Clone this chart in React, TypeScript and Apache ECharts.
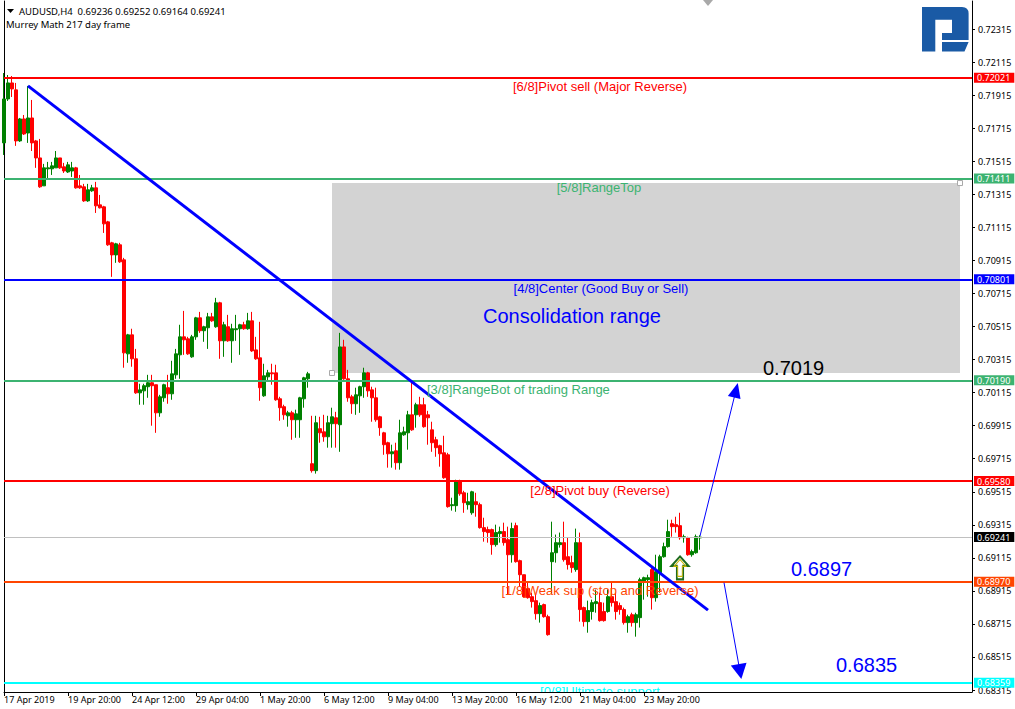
import React, { useEffect, useRef } from 'react';
import * as echarts from 'echarts';

// ---------- DATA ----------
const opens = [
  0.71627, 0.71893, 0.71990, 0.71948, 0.71639, 0.71772, 0.71687, 0.71778, 0.71639, 0.71536,
  0.71367, 0.71470, 0.71470, 0.71476, 0.71536, 0.71482, 0.71451, 0.71457, 0.71476, 0.71367,
  0.71361, 0.71276, 0.71337, 0.71355, 0.71252, 0.71240, 0.71149, 0.71022, 0.70949, 0.71010,
  0.70919, 0.70350, 0.70465, 0.70320, 0.70114, 0.70126, 0.70151, 0.70175, 0.70163, 0.69993,
  0.70084, 0.70145, 0.70108, 0.70223, 0.70344, 0.70453, 0.70441, 0.70332, 0.70453, 0.70568,
  0.70490, 0.70508, 0.70574, 0.70514, 0.70659, 0.70429, 0.70514, 0.70429, 0.70496, 0.70502,
  0.70526, 0.70502, 0.70550, 0.70374, 0.70326, 0.70096, 0.70211, 0.70235, 0.70235, 0.70078,
  0.70030, 0.69975, 0.69993, 0.69951, 0.69951, 0.70078, 0.70199, 0.69685, 0.69643, 0.69897,
  0.69878, 0.69848, 0.69927, 0.69963, 0.69921, 0.70392, 0.70199, 0.70090, 0.70048, 0.70096,
  0.70151, 0.70235, 0.70132, 0.70084, 0.69969, 0.69872, 0.69812, 0.69745, 0.69763, 0.69691,
  0.69860, 0.69872, 0.69981, 0.69981, 0.70042, 0.70042, 0.69981, 0.69890, 0.69830, 0.69794,
  0.69751, 0.69739, 0.69431, 0.69431, 0.69582, 0.69509, 0.69437, 0.69388, 0.69455, 0.69437,
  0.69298, 0.69286, 0.69286, 0.69195, 0.69262, 0.69274, 0.69225, 0.69134, 0.69310, 0.69098,
  0.69013, 0.68929, 0.68880, 0.68856, 0.68777, 0.68832, 0.68759, 0.69092, 0.69146, 0.69195,
  0.69207, 0.69122, 0.69086, 0.69044, 0.69207, 0.68814, 0.68729, 0.68790, 0.68838, 0.68844,
  0.68790, 0.68790, 0.68880, 0.68850, 0.68826, 0.68802, 0.68723, 0.68771, 0.68723, 0.68753,
  0.68971, 0.68983, 0.69044, 0.68874, 0.69025, 0.69122, 0.69183, 0.69322, 0.69316, 0.69310,
  0.69237, 0.69237, 0.69134, 0.69146, 0.69236,
];
const closes = [
  0.71893, 0.71990, 0.71954, 0.71639, 0.71772, 0.71681, 0.71778, 0.71627, 0.71536, 0.71361,
  0.71476, 0.71476, 0.71488, 0.71536, 0.71476, 0.71457, 0.71494, 0.71476, 0.71355, 0.71355,
  0.71276, 0.71343, 0.71355, 0.71246, 0.71234, 0.71137, 0.71010, 0.70949, 0.71016, 0.70907,
  0.70356, 0.70465, 0.70320, 0.70114, 0.70132, 0.70157, 0.70175, 0.70157, 0.69993, 0.70090,
  0.70163, 0.70108, 0.70229, 0.70350, 0.70453, 0.70435, 0.70350, 0.70453, 0.70568, 0.70490,
  0.70514, 0.70574, 0.70550, 0.70659, 0.70429, 0.70526, 0.70429, 0.70502, 0.70502, 0.70526,
  0.70502, 0.70550, 0.70368, 0.70320, 0.70145, 0.70217, 0.70235, 0.70229, 0.70072, 0.70024,
  0.69981, 0.69993, 0.69951, 0.69987, 0.70084, 0.70205, 0.70229, 0.69643, 0.69933, 0.69872,
  0.69848, 0.69933, 0.69969, 0.69927, 0.70392, 0.70199, 0.70084, 0.70048, 0.70102, 0.70151,
  0.70235, 0.70126, 0.70084, 0.69951, 0.69903, 0.69800, 0.69745, 0.69757, 0.69691, 0.69872,
  0.69878, 0.69981, 0.69890, 0.70042, 0.69981, 0.69909, 0.69963, 0.69812, 0.69782, 0.69745,
  0.69600, 0.69425, 0.69437, 0.69582, 0.69503, 0.69449, 0.69455, 0.69515, 0.69437, 0.69298,
  0.69274, 0.69268, 0.69195, 0.69268, 0.69274, 0.69207, 0.69134, 0.69292, 0.69092, 0.69013,
  0.68880, 0.68874, 0.68850, 0.68777, 0.68826, 0.68759, 0.68650, 0.69146, 0.69207, 0.69207,
  0.69104, 0.69074, 0.69056, 0.69207, 0.68802, 0.68729, 0.68796, 0.68844, 0.68850, 0.68735,
  0.68735, 0.68880, 0.68844, 0.68790, 0.68802, 0.68723, 0.68759, 0.68723, 0.68771, 0.68983,
  0.68995, 0.68995, 0.68874, 0.69031, 0.69122, 0.69183, 0.69274, 0.69304, 0.69304, 0.69237,
  0.69243, 0.69134, 0.69153, 0.69243, 0.69241,
];
const lows = [
  0.71554, 0.71881, 0.71905, 0.71609, 0.71633, 0.71675, 0.71627, 0.71578, 0.71476, 0.71355,
  0.71367, 0.71409, 0.71433, 0.71476, 0.71470, 0.71445, 0.71445, 0.71421, 0.71350, 0.71349,
  0.71270, 0.71270, 0.71331, 0.71203, 0.71230, 0.71082, 0.71004, 0.70816, 0.70901, 0.70901,
  0.70266, 0.70296, 0.70272, 0.70108, 0.70042, 0.70042, 0.70084, 0.69915, 0.69872, 0.69969,
  0.70060, 0.70048, 0.70072, 0.70199, 0.70199, 0.70344, 0.70344, 0.70326, 0.70435, 0.70477,
  0.70423, 0.70380, 0.70544, 0.70508, 0.70320, 0.70332, 0.70423, 0.70296, 0.70429, 0.70344,
  0.70496, 0.70496, 0.70362, 0.70314, 0.70066, 0.70090, 0.70181, 0.70163, 0.70066, 0.69945,
  0.69951, 0.69909, 0.69830, 0.69842, 0.69842, 0.70024, 0.70145, 0.69631, 0.69625, 0.69812,
  0.69818, 0.69782, 0.69782, 0.69782, 0.69757, 0.70193, 0.70060, 0.69987, 0.69981, 0.69993,
  0.70084, 0.70090, 0.69939, 0.69939, 0.69854, 0.69739, 0.69661, 0.69661, 0.69649, 0.69649,
  0.69854, 0.69770, 0.69884, 0.69903, 0.69969, 0.69903, 0.69800, 0.69757, 0.69727, 0.69667,
  0.69594, 0.69419, 0.69401, 0.69394, 0.69491, 0.69388, 0.69407, 0.69376, 0.69364, 0.69292,
  0.69213, 0.69207, 0.69134, 0.69183, 0.69207, 0.69189, 0.68892, 0.69086, 0.69086, 0.68941,
  0.68874, 0.68868, 0.68814, 0.68741, 0.68723, 0.68753, 0.68644, 0.68898, 0.69086, 0.69177,
  0.69092, 0.69044, 0.69025, 0.69031, 0.68729, 0.68699, 0.68662, 0.68741, 0.68783, 0.68729,
  0.68729, 0.68783, 0.68820, 0.68741, 0.68771, 0.68711, 0.68662, 0.68699, 0.68638, 0.68693,
  0.68862, 0.68880, 0.68802, 0.68850, 0.68904, 0.69116, 0.69177, 0.69243, 0.69268, 0.69225,
  0.69207, 0.69128, 0.69122, 0.69140, 0.69164,
];
const highs = [
  0.72050, 0.72038, 0.72032, 0.71990, 0.71778, 0.71796, 0.71972, 0.71887, 0.71645, 0.71651,
  0.71500, 0.71512, 0.71512, 0.71578, 0.71536, 0.71506, 0.71512, 0.71512, 0.71482, 0.71433,
  0.71379, 0.71379, 0.71373, 0.71391, 0.71312, 0.71246, 0.71155, 0.71028, 0.71022, 0.71022,
  0.70931, 0.70471, 0.70502, 0.70380, 0.70169, 0.70169, 0.70223, 0.70223, 0.70163, 0.70102,
  0.70169, 0.70223, 0.70308, 0.70380, 0.70526, 0.70610, 0.70453, 0.70465, 0.70574, 0.70604,
  0.70520, 0.70598, 0.70598, 0.70689, 0.70665, 0.70544, 0.70586, 0.70532, 0.70586, 0.70532,
  0.70544, 0.70598, 0.70604, 0.70453, 0.70544, 0.70290, 0.70253, 0.70290, 0.70284, 0.70090,
  0.70042, 0.70005, 0.70005, 0.70012, 0.70090, 0.70211, 0.70241, 0.69975, 0.69975, 0.69969,
  0.69981, 0.69975, 0.70024, 0.69999, 0.70477, 0.70435, 0.70253, 0.70102, 0.70145, 0.70157,
  0.70266, 0.70241, 0.70151, 0.70145, 0.69975, 0.69878, 0.69818, 0.69800, 0.69812, 0.69951,
  0.69909, 0.70005, 0.70175, 0.70054, 0.70090, 0.70084, 0.70005, 0.69939, 0.69848, 0.69800,
  0.69854, 0.69751, 0.69479, 0.69588, 0.69588, 0.69521, 0.69509, 0.69521, 0.69509, 0.69449,
  0.69358, 0.69304, 0.69292, 0.69316, 0.69304, 0.69328, 0.69304, 0.69328, 0.69328, 0.69104,
  0.69013, 0.68971, 0.68904, 0.68892, 0.68844, 0.68838, 0.68771, 0.69334, 0.69256, 0.69268,
  0.69334, 0.69237, 0.69128, 0.69292, 0.69268, 0.68820, 0.68856, 0.68862, 0.68923, 0.68904,
  0.68844, 0.68923, 0.68965, 0.68904, 0.68844, 0.68814, 0.68771, 0.68783, 0.68783, 0.68995,
  0.69001, 0.69013, 0.69056, 0.69134, 0.69134, 0.69207, 0.69346, 0.69346, 0.69364, 0.69388,
  0.69256, 0.69243, 0.69165, 0.69256, 0.69252,
];

const xTickLabels = [
  '17 Apr 2019', '19 Apr 20:00', '24 Apr 12:00', '29 Apr 04:00', '1 May 20:00', '6 May 12:00',
  '9 May 04:00', '13 May 20:00', '16 May 12:00', '21 May 04:00', '23 May 20:00',
];
const xTickStep = 16; // bars between time labels
const slotCount = 243; // bar slots visible across the chart width

const yTickValues = [
  0.68315, 0.68515, 0.68715, 0.68915, 0.69115, 0.69315, 0.69515, 0.69715, 0.69915, 0.70115,
  0.70315, 0.70515, 0.70715, 0.70915, 0.71115, 0.71315, 0.71515, 0.71715, 0.71915, 0.72115, 0.72315,
];
const yMin = 0.68303;
const yMax = 0.72486;

const levelValues = [0.72021, 0.71411, 0.70801, 0.70190, 0.69580, 0.68970, 0.68359];
const levelNames = [
  '[6/8]Pivot sell (Major Reverse)', '[5/8]RangeTop', '[4/8]Center (Good Buy or Sell)',
  '[3/8]RangeBot of trading Range', '[2/8]Pivot buy (Reverse)',
  '[1/8]Weak sup (stop and Reverse)', '[0/8]Ultimate support',
];
const levelColors = ['#ff0000', '#3cb371', '#0000ff', '#3cb371', '#ff0000', '#ff4500', '#00ffff'];
const levelTextX = [600, 599, 601, 427, 600, 600, 600];
const levelTextAlign = ['center', 'center', 'center', 'left', 'center', 'center', 'center'];

const lastPrice = 0.69241;
const headerText = 'AUDUSD,H4  0.69236 0.69252 0.69164 0.69241';
const indicatorText = 'Murrey Math 217 day frame';

const trendLine = [[6, 0.71972], [176, 0.68799]];
const upArrow = [[174, 0.69247], [183, 0.70130]];
const downArrow = [[180, 0.68965], [184, 0.68427]];
const signalArrow = [169, 0.69054];
const rangeBox = [[82, 0.71384], [239, 0.70234]];

const notes = [
  { text: 'Consolidation range', x: 572, y: 316, align: 'center', color: '#0000ff' },
  { text: '0.7019', x: 763, y: 368, align: 'left', color: '#000000' },
  { text: '0.6897', x: 791, y: 569, align: 'left', color: '#0000ff' },
  { text: '0.6835', x: 836, y: 665, align: 'left', color: '#0000ff' },
];

// ---------- LOGO SHAPE ----------
const LOGO_D =
  'M0,0 H40 Q46.6,0 46.6,6.6 V33 H20 V26 H30 V12.7 H13.3 V44.4 H0 Z ' +
  'M20,35 H46.6 L42.5,44.4 H20 Z';
let logoRegistered = false;
function registerLogo() {
  if (logoRegistered) return;
  try {
    echarts.graphic.registerShape('rfLogo', echarts.graphic.extendPath(LOGO_D, {}));
  } catch (e) {
    // already registered
  }
  logoRegistered = true;
}

const MT_FONT = '"Noto Sans", "DejaVu Sans", sans-serif';
const ARIAL = '"Liberation Sans", Arial, sans-serif';

function tagLabel(text: string, bg: string) {
  return {
    show: true,
    position: 'end',
    formatter: text,
    color: '#ffffff',
    backgroundColor: bg,
    padding: [0, 4, 0, 3],
    distance: 2,
    fontFamily: MT_FONT,
    fontSize: 9,
    lineHeight: 10,
  };
}

function hLine(value: number, color: string, width: number, tagBg: string) {
  return [
    { coord: [0, value], symbol: 'none' },
    {
      coord: [slotCount - 1, value],
      symbol: 'none',
      lineStyle: { color, width, type: 'solid' },
      label: tagLabel(value.toFixed(5), tagBg),
    },
  ];
}

export default function App() {
  const ref = useRef<HTMLDivElement>(null);

  useEffect(() => {
    if (!ref.current) return;
    registerLogo();
    const chart = echarts.init(ref.current, undefined, { renderer: 'svg' });

    const categories = Array.from({ length: slotCount }, (_, i) => String(i));
    const ohlc = opens.map((o, i) => [o, closes[i], lows[i], highs[i]]);
    const showTick = (i: number) => i % xTickStep === 0 && i / xTickStep < xTickLabels.length;

    const levelLines = levelValues.map((v, i) => hLine(v, levelColors[i], 2, levelColors[i]));

    const option: any = {
      animation: false,
      backgroundColor: '#ffffff',
      grid: { left: 4, right: 43, top: 1, bottom: 17, containLabel: false },
      xAxis: {
        type: 'category',
        data: categories,
        boundaryGap: false,
        axisLine: { onZero: false, lineStyle: { color: '#000', width: 1 } },
        axisTick: { show: true, interval: (i: number) => showTick(i), length: 4, lineStyle: { color: '#000' } },
        axisLabel: {
          interval: (i: number) => showTick(i),
          formatter: (_v: string, i: number) => (showTick(i) ? xTickLabels[i / xTickStep] : ''),
          align: 'left',
          margin: 3,
          color: '#000',
          fontFamily: MT_FONT,
          fontSize: 9,
        },
        splitLine: { show: false },
      },
      yAxis: [
        {
          type: 'value',
          position: 'right',
          min: yMin,
          max: yMax,
          axisLine: { show: true, lineStyle: { color: '#000', width: 1 } },
          axisTick: { show: true, customValues: yTickValues, length: 3, lineStyle: { color: '#000' } },
          axisLabel: {
            customValues: yTickValues,
            formatter: (v: number) => v.toFixed(5),
            color: '#000',
            fontFamily: MT_FONT,
            fontSize: 9,
            margin: 6,
          },
          splitLine: { show: false },
        },
        {
          type: 'value',
          position: 'left',
          min: yMin,
          max: yMax,
          axisLine: { show: true, lineStyle: { color: '#000', width: 1 } },
          axisTick: { show: false },
          axisLabel: { show: false },
          splitLine: { show: false },
        },
      ],
      series: [
        {
          type: 'line',
          data: [],
          z: 1,
          silent: true,
          markArea: {
            silent: true,
            itemStyle: { color: '#d3d3d3', opacity: 1 },
            data: [[{ coord: rangeBox[0] }, { coord: rangeBox[1] }]],
          },
          markPoint: {
            silent: true,
            symbol: 'rect',
            symbolSize: 5,
            itemStyle: { color: '#ffffff', borderColor: '#a9a9a9', borderWidth: 1 },
            label: { show: false },
            data: [
              { coord: [rangeBox[0][0], rangeBox[1][1]] },
              { coord: [rangeBox[1][0], rangeBox[0][1]] },
            ],
          },
        },
        {
          type: 'candlestick',
          data: ohlc,
          barWidth: 3,
          z: 2,
          itemStyle: {
            color: '#008000',
            color0: '#ff0000',
            borderColor: '#008000',
            borderColor0: '#ff0000',
            borderWidth: 1,
          },
        },
        {
          type: 'line',
          data: [],
          z: 3,
          silent: true,
          markLine: {
            silent: true,
            symbol: ['none', 'none'],
            label: { show: false },
            emphasis: { disabled: true },
            data: [
              ...levelLines,
              hLine(lastPrice, '#c0c0c0', 1, '#000000'),
              [
                { coord: trendLine[0], symbol: 'none' },
                { coord: trendLine[1], symbol: 'none', lineStyle: { color: '#0000ff', width: 3, type: 'solid' } },
              ],
              [
                { coord: upArrow[0], symbol: 'none' },
                {
                  coord: upArrow[1],
                  symbol: 'triangle',
                  symbolSize: [13, 15],
                  lineStyle: { color: '#0000ff', width: 1, type: 'solid' },
                  itemStyle: { color: '#0000ff' },
                },
              ],
              [
                { coord: downArrow[0], symbol: 'none' },
                {
                  coord: downArrow[1],
                  symbol: 'triangle',
                  symbolSize: [16, 15],
                  lineStyle: { color: '#0000ff', width: 1, type: 'solid' },
                  itemStyle: { color: '#0000ff' },
                },
              ],
            ],
          },
          markPoint: {
            silent: true,
            label: { show: false },
            symbol: 'path://M8,0 L16,9 L11,9 L11,22 L5,22 L5,9 L0,9 Z',
            data: [
              {
                coord: signalArrow,
                symbolSize: [17, 23],
                itemStyle: { color: 'rgba(0,0,0,0)', borderColor: '#1e6b1e', borderWidth: 2 },
              },
              {
                coord: signalArrow,
                symbolSize: [12, 17],
                itemStyle: { color: 'rgba(0,0,0,0)', borderColor: '#c8b400', borderWidth: 1 },
              },
            ],
          },
        },
        {
          type: 'custom',
          coordinateSystem: 'cartesian2d',
          clip: true,
          silent: true,
          z: 5,
          data: levelValues.map((v) => [0, v]),
          renderItem: (params: any, api: any) => {
            const i = params.dataIndex;
            const y = api.coord([0, api.value(1)])[1];
            return {
              type: 'text',
              x: levelTextX[i],
              y: y + 9,
              style: {
                text: levelNames[i],
                fill: levelColors[i],
                font: '13px ' + ARIAL,
                align: levelTextAlign[i],
                verticalAlign: 'middle',
              },
            };
          },
        },
      ],
      graphic: [
        { type: 'polygon', shape: { points: [[7, 9], [14, 9], [10.5, 13]] }, style: { fill: '#000' } },
        {
          type: 'text',
          x: 19,
          y: 11,
          style: { text: headerText, fill: '#000', font: '9.5px ' + MT_FONT, verticalAlign: 'middle' },
        },
        {
          type: 'text',
          x: 6,
          y: 24,
          style: { text: indicatorText, fill: '#000', font: '9.5px ' + MT_FONT, verticalAlign: 'middle' },
        },
        { type: 'polygon', shape: { points: [[703, 0], [713, 0], [708, 6]] }, style: { fill: '#a9a9a9' } },
        { type: 'rfLogo', x: 922, y: 7, scaleX: 1, scaleY: 1, style: { fill: '#1a5aa5' } },
        ...notes.map((n) => ({
          type: 'text',
          x: n.x,
          y: n.y,
          z: 10,
          style: { text: n.text, fill: n.color, font: '20px ' + ARIAL, align: n.align, verticalAlign: 'middle' },
        })),
      ],
    };

    chart.setOption(option);
    return () => chart.dispose();
  }, []);

  return (
    <div
      ref={ref}
      style={{ position: 'absolute', left: 0, top: 0, width: 1015, height: 709, background: '#fff' }}
    />
  );
}
